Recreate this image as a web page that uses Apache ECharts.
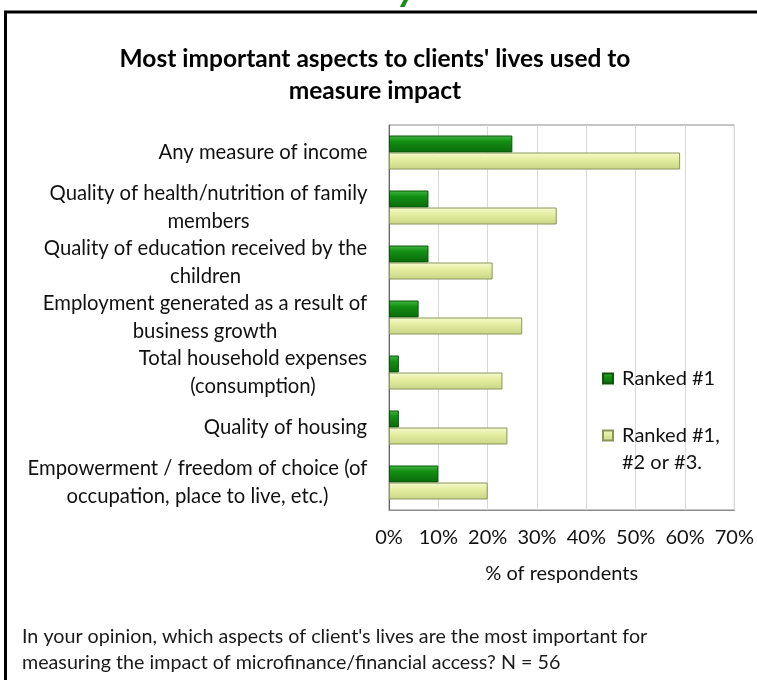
<!DOCTYPE html>
<html>
<head>
<meta charset="utf-8">
<script src="https://cdn.jsdelivr.net/npm/echarts@6/dist/echarts.min.js"></script>
<style>
html,body{margin:0;padding:0;background:#fff;}
#chart{width:757px;height:680px;}
</style>
</head>
<body>
<div id="chart"></div>
<script>
const categories = [
  'Any measure of income',
  'Quality of health/nutrition of family\nmembers',
  'Quality of education received by the\nchildren',
  'Employment generated as a result of\nbusiness growth',
  'Total household expenses\n(consumption)',
  'Quality of housing',
  'Empowerment / freedom of choice (of\noccupation, place to live, etc.)'
];
const ranked1 = [25, 8, 8, 6, 2, 2, 10];
const ranked123 = [59, 34, 21, 27, 23, 24, 20];
const seriesNames = ['Ranked #1', 'Ranked #1,\n#2 or #3.'];
const xTicks = [0, 10, 20, 30, 40, 50, 60, 70];
const titleLines = "Most important aspects to clients' lives used to\nmeasure impact";
const noteText = "In your opinion, which aspects of client's lives are the most important for\nmeasuring the impact of microfinance/financial access? N = 56";

const FONT = 'Lato';
const LBL = 20.3;
const cv = document.createElement('canvas').getContext('2d');
cv.font = LBL + 'px ' + FONT;
const rich = {};
categories.forEach((c, i) => {
  const w = Math.max(...c.split('\n').map(l => cv.measureText(l).width));
  rich['c' + i] = {width: Math.ceil(w) + 1, align: 'center', fontSize: LBL, fontFamily: FONT, color: '#111', lineHeight: 28};
});

const chart = echarts.init(document.getElementById('chart'));
chart.setOption({
  animation: false,
  backgroundColor: '#fff',
  title: {
    text: titleLines,
    left: 370, top: 38, textAlign: 'center',
    textStyle: {fontFamily: FONT, fontWeight: 'bold', fontSize: 24.5, lineHeight: 32, color: '#000'}
  },
  graphic: [
    {type: 'rect', shape: {x: 5.5, y: 12, width: 800, height: 720}, style: {fill: 'none', stroke: '#000', lineWidth: 3}, silent: true},
    {type: 'text', left: 398, top: -33, style: {text: 'y', fontFamily: FONT, fontWeight: 'bold', fontStyle: 'italic', fontSize: 40, fill: '#1a8c1a'}},
    {type: 'text', left: 22, top: 624, style: {text: noteText, fontFamily: FONT, fontSize: 19.7, lineHeight: 26, fill: '#1a1a1a'}}
  ],
  legend: {
    orient: 'vertical', left: 597, top: 360,
    itemWidth: 10, itemHeight: 10, itemGap: 3, icon: 'rect',
    formatter: name => name === seriesNames[1] ? '\n' + name : name,
    textStyle: {fontFamily: FONT, fontSize: 20, color: '#111', lineHeight: 27, padding: [0, 0, 0, 4]},
    data: seriesNames
  },
  grid: {left: 389, right: 20, top: 125, bottom: 170, show: true, borderColor: '#8c8c8c', borderWidth: 1},
  xAxis: {
    type: 'value', min: 0, max: 70, interval: 10,
    name: '% of respondents', nameLocation: 'middle', nameGap: 54,
    nameTextStyle: {fontFamily: FONT, fontSize: 20, color: '#111'},
    axisLabel: {margin: 18, fontFamily: FONT, fontSize: 20, color: '#111', formatter: v => xTicks.includes(v) ? v + '%' : ''},
    axisLine: {show: true, lineStyle: {color: '#8c8c8c'}},
    axisTick: {show: false},
    splitLine: {show: true, lineStyle: {color: '#d9d9d9'}}
  },
  yAxis: {
    type: 'category', inverse: true, data: categories,
    axisLine: {show: true, lineStyle: {color: '#666'}},
    axisTick: {show: false},
    axisLabel: {margin: 21, rich: rich, formatter: (v, i) => v.split('\n').map(l => '{c' + i + '|' + l + '}').join('\n')}
  },
  series: [
    {
      name: seriesNames[0], type: 'bar', data: ranked1, barWidth: 17, barGap: '0%',
      itemStyle: {
        color: new echarts.graphic.LinearGradient(0, 0, 0, 1, [
          {offset: 0, color: '#45b845'}, {offset: 0.35, color: '#138f13'}, {offset: 1, color: '#0a6a0a'}
        ]),
        borderColor: '#0a560a', borderWidth: 1
      }
    },
    {
      name: seriesNames[1], type: 'bar', data: ranked123, barWidth: 17, barGap: '0%',
      itemStyle: {
        color: new echarts.graphic.LinearGradient(0, 0, 0, 1, [
          {offset: 0, color: '#f6fad0'}, {offset: 0.4, color: '#e4eea0'}, {offset: 1, color: '#c9d586'}
        ]),
        borderColor: '#8a965a', borderWidth: 1
      }
    }
  ]
});
</script>
</body>
</html>
